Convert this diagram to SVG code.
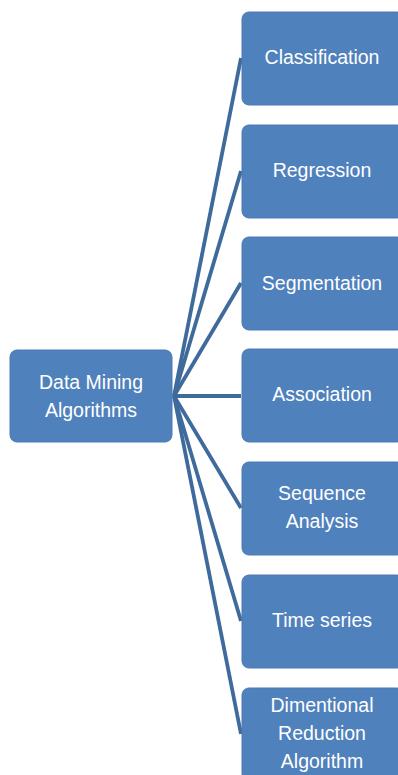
<svg xmlns="http://www.w3.org/2000/svg" width="398" height="775" viewBox="0 0 398 775">
<style>
.box{fill:#4F81BD;stroke:#4A7AB4;stroke-width:1}
.t{fill:#FFFFFF;font-family:"Liberation Sans","Open Sans",sans-serif;font-size:19.5px;text-anchor:middle}
.c{stroke:#3F6A9C;stroke-width:3.8;fill:none;stroke-linecap:butt}
</style>
<rect width="398" height="775" fill="#FFFFFF"/>
<g id="connectors">
<line class="c" x1="174" y1="396" x2="241" y2="58"/>
<line class="c" x1="174" y1="396" x2="241" y2="171"/>
<line class="c" x1="174" y1="396" x2="241" y2="283"/>
<line class="c" x1="174" y1="396" x2="241" y2="396"/>
<line class="c" x1="174" y1="396" x2="241" y2="508"/>
<line class="c" x1="174" y1="396" x2="241" y2="621"/>
<line class="c" x1="174" y1="396" x2="241" y2="734"/>
</g>
<g id="root">
<rect class="box" x="10" y="350" width="162" height="92" rx="7"/>
<text class="t" x="91" y="389">Data Mining</text>
<text class="t" x="91" y="417">Algorithms</text>
</g>
<g id="classification">
<rect class="box" x="242" y="12" width="162" height="93" rx="7"/>
<text class="t" x="322" y="64">Classification</text>
</g>
<g id="regression">
<rect class="box" x="242" y="125" width="162" height="93" rx="7"/>
<text class="t" x="322" y="177">Regression</text>
</g>
<g id="segmentation">
<rect class="box" x="242" y="237" width="162" height="93" rx="7"/>
<text class="t" x="322" y="290">Segmentation</text>
</g>
<g id="association">
<rect class="box" x="242" y="349" width="162" height="93" rx="7"/>
<text class="t" x="322" y="401">Association</text>
</g>
<g id="sequence">
<rect class="box" x="242" y="462" width="162" height="93" rx="7"/>
<text class="t" x="322" y="500">Sequence</text>
<text class="t" x="322" y="528">Analysis</text>
</g>
<g id="timeseries">
<rect class="box" x="242" y="575" width="162" height="93" rx="7"/>
<text class="t" x="322" y="627">Time series</text>
</g>
<g id="dimentional">
<rect class="box" x="242" y="688" width="162" height="93" rx="7"/>
<text class="t" x="322" y="712">Dimentional</text>
<text class="t" x="322" y="740">Reduction</text>
<text class="t" x="322" y="768">Algorithm</text>
</g>
</svg>
